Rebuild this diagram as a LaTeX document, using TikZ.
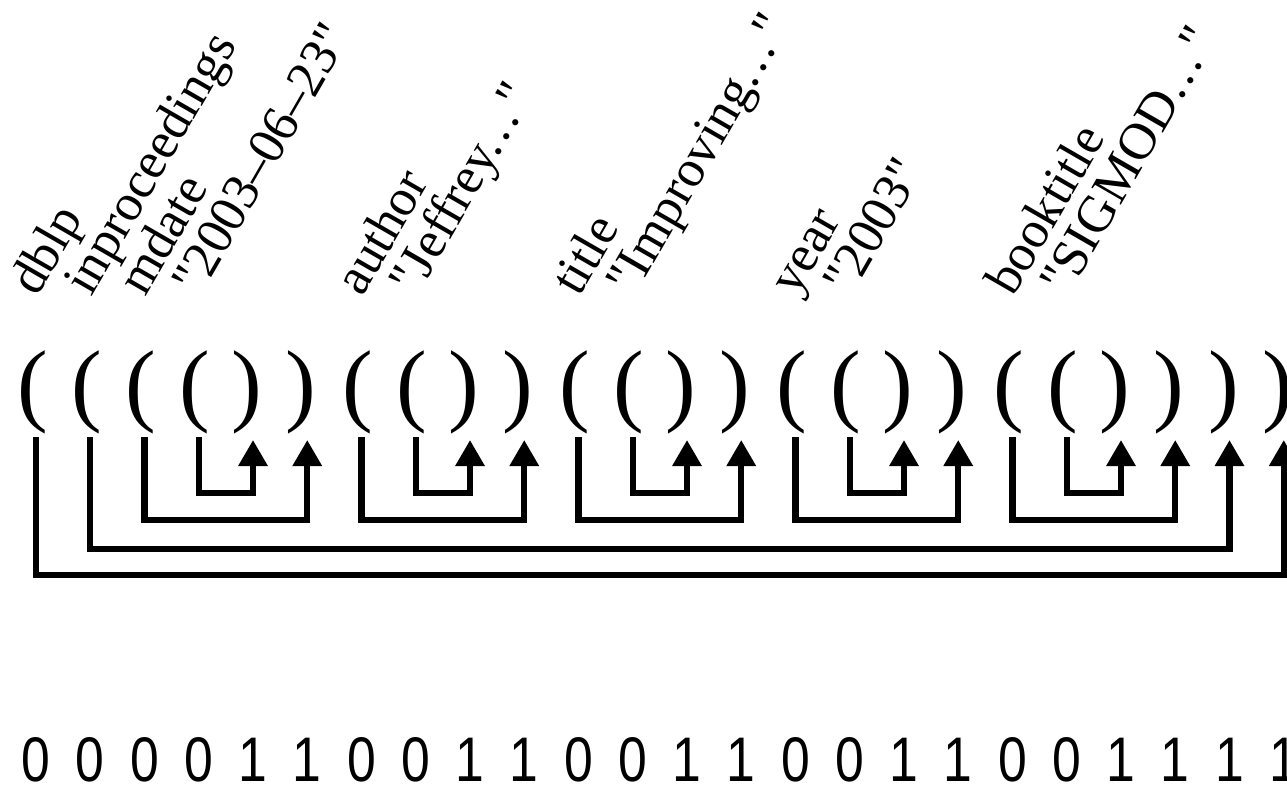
\documentclass[tikz,border=0pt]{standalone}
\usepackage{fontspec}
\setmainfont{Liberation Serif}[Ligatures=TeXOff]
\newfontfamily\bitfont{Liberation Sans}
\usetikzlibrary{arrows.meta}
\newcommand\spdots{.\kern0.07em.\kern0.07em.\kern0.1em}
\begin{document}
\begin{tikzpicture}[x=1pt,y=-1pt,
  paren/.style={anchor=base, inner sep=0pt, font=\fontsize{92}{92}\selectfont},
  lab/.style={anchor=base west, inner sep=0pt, rotate=60, font=\fontsize{52}{60}\selectfont},
  bit/.style={anchor=base, inner sep=0pt, font=\bitfont\fontsize{63}{63}\selectfont, xscale=0.82},
  link/.style={line width=6.2pt, -{Triangle[width=28pt,length=26pt]}}]
\useasboundingbox (0,0) rectangle (1287,787);
\clip (0,0) rectangle (1287,787);
\def\pitch{54.25}
% parentheses of the serialized tree
\foreach \i in {0,1,2,3,6,7,10,11,14,15,18,19}{
  \node[paren] (p\i) at ({36+\pitch*\i-3.5},414) {(};
  \coordinate (s\i) at ({36+\pitch*\i},437);
}
\foreach \i in {4,5,8,9,12,13,16,17,20,21,22,23}{
  \node[paren] (p\i) at ({36+\pitch*\i-6},414) {)};
  \coordinate (t\i) at ({36+\pitch*\i},440);
}
% element and value labels
\foreach \i/\t in {0/dblp,1/inproceedings,2/mdate,3/"2003–06–23",
                   6/author,7/"Jeffrey\spdots",10/title,11/"Improving\spdots",
                   14/year,15/"2003",18/booktitle,19/"SIGMOD\spdots"}{
  \node[lab] (l\i) at ({36+\pitch*\i+1},298) {\t};
}
% matching open/close pairs
\foreach \a/\b/\y in {3/4/493,7/8/493,11/12/493,15/16/493,19/20/493,
                      2/5/520,6/9/520,10/13/520,14/17/520,18/21/520,
                      1/22/549,0/23/575}{
  \draw[link] (s\a) |- (t\b |- 0,\y) -- (t\b);
}
% bit string
\foreach \i/\d in {0/0,1/0,2/0,3/0,4/1,5/1,6/0,7/0,8/1,9/1,10/0,11/0,
                   12/1,13/1,14/0,15/0,16/1,17/1,18/0,19/0,20/1,21/1,22/1,23/1}{
  \node[bit] (d\i) at ({36+\pitch*\i},781) {\d};
}
\end{tikzpicture}
\end{document}
